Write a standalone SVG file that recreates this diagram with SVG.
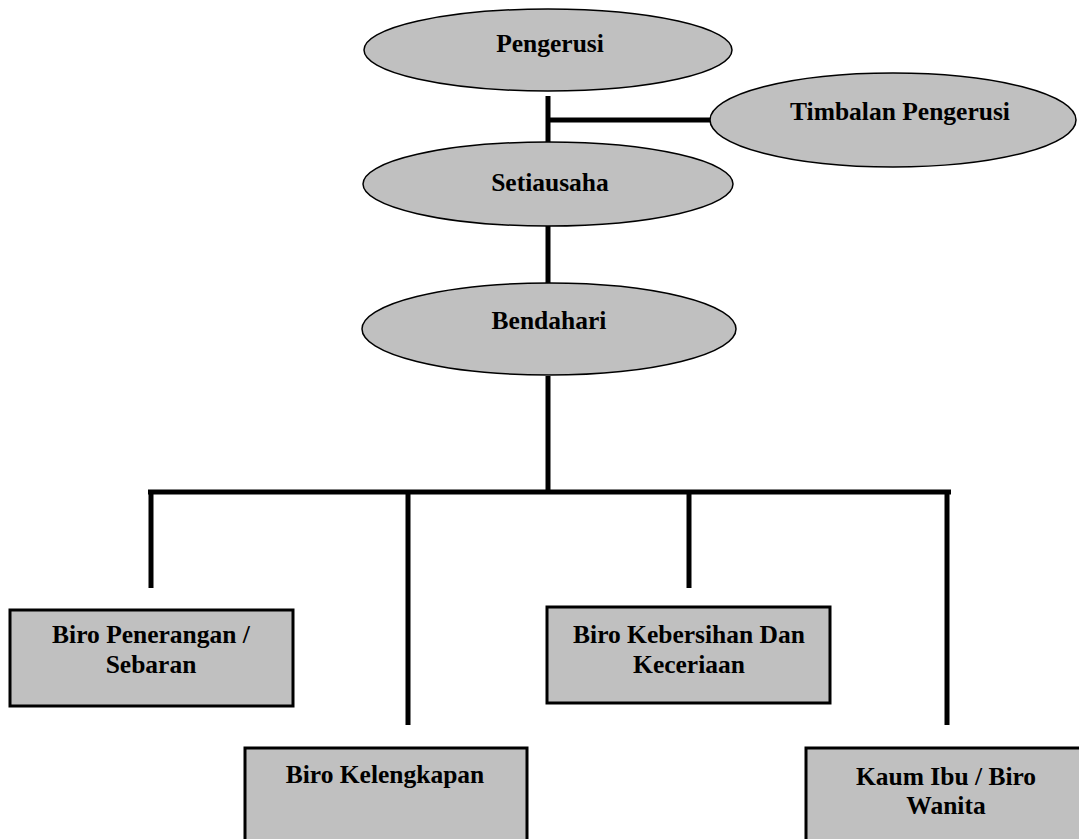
<svg xmlns="http://www.w3.org/2000/svg" width="1079" height="839" viewBox="0 0 1079 839">
<style>
.ell{fill:#c0c0c0;stroke:#000;stroke-width:1.5}
.box{fill:#c0c0c0;stroke:#000;stroke-width:3}
.lbl{font-family:"Liberation Serif","Times New Roman",serif;font-weight:bold;font-size:25.5px;fill:#000;text-anchor:middle}
.con{stroke:#000;stroke-width:5;fill:none}
</style>
<rect width="1079" height="839" fill="#fff"/>
<g id="connectors">
<line class="con" x1="548" y1="96" x2="548" y2="142"/>
<line class="con" x1="548" y1="120" x2="711" y2="120"/>
<line class="con" x1="548" y1="226" x2="548" y2="283"/>
<line class="con" x1="548" y1="376" x2="548" y2="492"/>
<line class="con" x1="148" y1="492" x2="951" y2="492"/>
<line class="con" x1="151" y1="492" x2="151" y2="588"/>
<line class="con" x1="408" y1="492" x2="408" y2="725"/>
<line class="con" x1="689" y1="492" x2="689" y2="588"/>
<line class="con" x1="947" y1="492" x2="947" y2="725"/>
</g>
<g id="pengerusi">
<ellipse class="ell" cx="548" cy="50" rx="184" ry="41"/>
<text class="lbl" x="550" y="52">Pengerusi</text>
</g>
<g id="timbalan">
<ellipse class="ell" cx="893" cy="120" rx="183" ry="47"/>
<text class="lbl" x="900" y="120">Timbalan Pengerusi</text>
</g>
<g id="setiausaha">
<ellipse class="ell" cx="548" cy="184" rx="185" ry="42"/>
<text class="lbl" x="550" y="191">Setiausaha</text>
</g>
<g id="bendahari">
<ellipse class="ell" cx="549" cy="329" rx="187" ry="46"/>
<text class="lbl" x="549" y="329">Bendahari</text>
</g>
<g id="biro-penerangan">
<rect class="box" x="10" y="610" width="283" height="96"/>
<text class="lbl" x="151" y="643">Biro Penerangan /</text>
<text class="lbl" x="151" y="673">Sebaran</text>
</g>
<g id="biro-kelengkapan">
<rect class="box" x="245" y="748" width="282" height="100"/>
<text class="lbl" x="385" y="783">Biro Kelengkapan</text>
</g>
<g id="biro-kebersihan">
<rect class="box" x="547" y="607" width="283" height="96"/>
<text class="lbl" x="689" y="643">Biro Kebersihan Dan</text>
<text class="lbl" x="689" y="673">Keceriaan</text>
</g>
<g id="kaum-ibu">
<rect class="box" x="806" y="748" width="283" height="100"/>
<text class="lbl" x="946" y="785">Kaum Ibu / Biro</text>
<text class="lbl" x="946" y="814">Wanita</text>
</g>
</svg>
